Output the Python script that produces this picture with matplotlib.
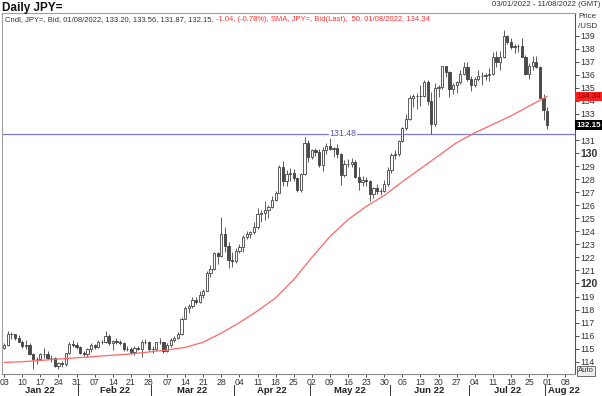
import matplotlib
matplotlib.use("Agg")
import matplotlib.pyplot as plt
import numpy as np
import pandas as pd

plt.rcParams['font.family'] = ['Liberation Sans', 'DejaVu Sans']

# trading days shown on the chart (Jan 3 .. Aug 1 2022, weekdays)
dates = pd.bdate_range("2022-01-03", "2022-08-01")

opens = [115.08, 115.30, 116.10, 116.10, 115.85, 115.55, 115.20, 115.30, 114.60, 114.20,
         114.20, 114.60, 114.60, 114.30, 114.30, 113.70, 113.90, 113.85, 114.65, 115.35,
         115.25, 115.10, 114.70, 114.60, 114.95, 115.25, 115.10, 115.55, 115.55, 116.00,
         115.45, 115.60, 115.55, 115.45, 114.95, 115.00, 114.75, 115.05, 115.00, 115.55,
         115.55, 114.95, 114.95, 115.50, 115.50, 114.80, 115.30, 115.70, 115.85, 116.15,
         117.30, 118.15, 118.30, 118.70, 118.60, 119.15, 119.45, 120.80, 121.10, 122.30,
         122.10, 123.80, 122.85, 121.80, 121.70, 122.50, 122.80, 123.60, 123.80, 123.95,
         124.30, 125.35, 125.40, 125.60, 125.90, 126.40, 126.95, 128.90, 127.85, 128.40,
         128.50, 128.10, 127.20, 128.40, 130.80, 129.70, 130.20, 130.10, 129.10, 130.20,
         130.55, 130.30, 130.40, 129.95, 128.30, 129.20, 129.15, 129.35, 128.20, 127.80,
         127.90, 127.85, 126.85, 127.30, 127.10, 127.10, 127.60, 128.70, 129.85, 129.90,
         130.90, 131.90, 132.60, 134.25, 134.40, 134.40, 134.40, 135.45, 134.00, 132.20,
         135.00, 135.10, 136.65, 136.20, 134.95, 135.20, 135.45, 136.10, 136.60, 135.70,
         135.20, 135.70, 135.90, 135.90, 136.00, 136.10, 137.40, 137.00, 137.40, 138.95,
         138.55, 138.15, 138.20, 138.20, 137.35, 136.10, 136.65, 136.95, 136.60, 134.25,
         133.20]
highs = [115.40, 116.35, 116.25, 116.15, 116.05, 115.70, 115.70, 115.40, 114.70, 114.35,
         114.70, 115.05, 114.80, 114.55, 114.35, 114.00, 114.05, 114.70, 115.50, 115.70,
         115.50, 115.20, 114.85, 115.05, 115.40, 115.35, 115.70, 115.70, 116.35, 116.10,
         115.70, 115.80, 115.70, 115.50, 115.20, 115.10, 115.20, 115.20, 115.70, 115.75,
         115.60, 115.20, 115.55, 115.80, 115.55, 115.40, 115.80, 116.00, 116.30, 117.40,
         118.30, 118.45, 118.95, 119.00, 119.40, 119.60, 120.95, 121.40, 122.40, 122.45,
         125.10, 124.30, 123.15, 122.40, 122.70, 123.00, 123.70, 124.00, 124.05, 124.70,
         125.75, 125.60, 126.30, 126.00, 126.70, 127.10, 129.05, 129.40, 128.70, 128.85,
         128.75, 128.20, 128.50, 131.25, 131.00, 130.35, 130.40, 130.35, 130.45, 130.80,
         131.35, 130.50, 130.70, 130.00, 129.45, 129.55, 129.60, 129.45, 128.95, 128.25,
         128.20, 127.95, 127.40, 127.60, 127.35, 127.90, 128.90, 130.00, 130.20, 131.00,
         132.00, 133.00, 134.45, 134.55, 134.60, 135.20, 135.60, 135.60, 134.65, 135.40,
         135.25, 136.70, 136.70, 136.30, 135.40, 135.55, 136.40, 137.00, 137.00, 135.90,
         135.80, 136.35, 136.20, 136.15, 136.55, 137.75, 137.85, 137.85, 139.40, 139.05,
         138.85, 138.40, 138.40, 138.85, 137.50, 136.90, 137.45, 137.45, 136.65, 134.55,
         133.56]
lows = [115.00, 115.20, 115.75, 115.70, 115.55, 115.05, 115.00, 114.50, 113.48, 113.80,
        114.10, 114.25, 114.20, 114.00, 113.60, 113.45, 113.60, 113.70, 114.60, 115.15,
        115.00, 114.60, 114.45, 114.35, 114.75, 114.95, 115.05, 115.35, 115.45, 115.25,
        114.90, 115.35, 115.30, 114.80, 114.85, 114.60, 114.55, 114.90, 114.40, 115.35,
        114.80, 114.70, 114.90, 115.35, 114.65, 114.75, 115.15, 115.55, 115.75, 116.05,
        117.25, 117.70, 118.10, 118.40, 118.50, 118.85, 119.40, 120.50, 121.00, 121.50,
        122.00, 122.40, 121.20, 121.30, 121.60, 122.30, 122.40, 123.40, 123.50, 123.80,
        124.20, 124.70, 124.90, 125.00, 125.80, 126.30, 126.90, 127.50, 127.50, 127.85,
        127.85, 127.05, 127.00, 128.35, 129.30, 129.55, 129.80, 128.90, 128.60, 129.90,
        130.20, 129.70, 129.65, 127.55, 128.20, 128.90, 128.90, 128.10, 127.20, 127.50,
        127.45, 126.35, 126.55, 126.85, 126.80, 127.00, 127.50, 128.45, 129.55, 129.80,
        130.85, 131.80, 132.50, 133.50, 133.40, 133.60, 134.30, 133.70, 131.50, 132.10,
        134.30, 134.90, 135.80, 134.30, 134.50, 134.60, 135.30, 136.00, 135.50, 134.75,
        135.10, 135.50, 135.20, 135.60, 135.50, 136.00, 136.60, 136.35, 137.30, 138.40,
        137.95, 137.70, 137.75, 137.40, 135.95, 135.65, 136.35, 136.55, 134.20, 132.50,
        131.87]
closes = [115.30, 116.10, 116.10, 115.85, 115.55, 115.20, 115.30, 114.60, 114.20, 114.20,
          114.60, 114.60, 114.30, 114.30, 113.70, 113.90, 113.85, 114.65, 115.35, 115.25,
          115.10, 114.70, 114.60, 114.95, 115.25, 115.10, 115.55, 115.55, 116.00, 115.45,
          115.60, 115.55, 115.45, 114.95, 115.00, 114.75, 115.05, 115.00, 115.55, 115.55,
          114.95, 114.95, 115.50, 115.50, 114.80, 115.30, 115.70, 115.85, 116.15, 117.30,
          118.15, 118.30, 118.70, 118.60, 119.15, 119.45, 120.80, 121.10, 122.30, 122.10,
          123.80, 122.85, 121.80, 121.70, 122.50, 122.80, 123.60, 123.80, 123.95, 124.30,
          125.35, 125.40, 125.60, 125.90, 126.40, 126.95, 128.90, 127.85, 128.40, 128.50,
          128.10, 127.20, 128.40, 130.80, 129.70, 130.20, 130.10, 129.10, 130.20, 130.55,
          130.30, 130.40, 129.95, 128.30, 129.20, 129.15, 129.35, 128.20, 127.80, 127.90,
          127.85, 126.85, 127.30, 127.10, 127.10, 127.60, 128.70, 129.85, 129.90, 130.90,
          131.90, 132.60, 134.25, 134.40, 134.40, 134.40, 135.45, 134.00, 132.20, 135.00,
          135.10, 136.65, 136.20, 134.95, 135.20, 135.45, 136.10, 136.60, 135.70, 135.20,
          135.70, 135.90, 135.90, 136.00, 136.10, 137.40, 137.00, 137.40, 138.95, 138.55,
          138.15, 138.20, 138.20, 137.35, 136.10, 136.65, 136.95, 136.60, 134.25, 133.30,
          132.15]

# 50-day SMA, one point per week (trading-day index)
sma_days = [0, 5, 10, 15, 20, 25, 30, 35, 40, 45, 50, 55, 60, 65, 70, 75,
            80, 85, 90, 95, 100, 105, 110, 115, 120, 125, 130, 135, 140, 145, 150]
sma_vals = [113.95, 114.0, 114.1, 114.2, 114.3, 114.4, 114.5, 114.6, 114.75, 114.9,
            115.1, 115.5, 116.2, 117.0, 117.9, 118.9, 120.3, 122.0, 123.6, 124.9,
            125.9, 126.75, 127.8, 128.8, 129.8, 130.8, 131.55, 132.2, 132.85, 133.6, 134.34]

hline_level = 131.48
last_close = 132.15
last_sma = 134.34
y_ticks = list(range(114, 140))

o = np.array(opens)
h = np.array(highs)
l = np.array(lows)
c = np.array(closes)
x = np.arange(len(dates))

fig = plt.figure(figsize=(6.02, 3.96), dpi=100)
ax = fig.add_axes([2 / 602, 1 - 374 / 396, 573 / 602, 361 / 396])

# candles
up = c >= o
ax.vlines(x, l, h, color='#404040', lw=0.6, zorder=2)
ax.bar(x[up], (c - o)[up], bottom=o[up], width=0.62, color='white',
       edgecolor='#404040', linewidth=0.6, zorder=3)
ax.bar(x[~up], (o - c)[~up], bottom=c[~up], width=0.62, color='#4a4a4a',
       edgecolor='#404040', linewidth=0.6, zorder=3)

# moving average
ax.plot(sma_days, sma_vals, color='#ff6666', lw=0.9, zorder=4)

# horizontal level
ax.axhline(hline_level, color='#7b7bd8', lw=0.9, zorder=1)
ax.text(93.6, hline_level, f"{hline_level:.2f}", color='#5555aa', fontsize=6.3,
        ha='center', va='center', zorder=5,
        bbox=dict(facecolor='white', edgecolor='none', pad=0.6))

ax.set_xlim(-0.6, 157.7)
ax.set_ylim(113.06, 140.74)

# right price axis
ax.yaxis.tick_right()
ax.set_yticks(y_ticks)
ax.set_yticklabels([str(v) for v in y_ticks])
ax.tick_params(axis='y', labelsize=6.3, length=3, width=0.6, colors='#333333', pad=1)
for lab in ax.get_yticklabels():
    if lab.get_text() in ('120', '130'):
        lab.set_fontweight('bold')
        lab.set_fontsize(7.5)

# x axis: Mondays
mondays = [i for i, d in enumerate(dates) if d.weekday() == 0] + [len(dates) + 4]
mon_labels = [f"{d.day:02d}" for d in dates if d.weekday() == 0] + ["08"]
ax.set_xticks(mondays)
ax.set_xticklabels(mon_labels)
ax.tick_params(axis='x', labelsize=6.3, length=2, width=0.6, colors='#333333', pad=1)

# month labels with separators
trans = ax.get_xaxis_transform()
months = pd.Series(dates.month)
starts = [i for i in range(len(dates)) if i == 0 or months[i] != months[i - 1]]
ends = starts[1:] + [len(dates) + 7]
for s, e in zip(starts, ends):
    name = dates[s].strftime("%b %y")
    if s > 0:
        ax.plot([s - 0.5, s - 0.5], [-0.03, -0.058], transform=trans,
                color='#333333', lw=0.7, clip_on=False)
    if e - s < 10:
        ax.text(s + 0.3, -0.045, name, transform=trans, ha='left', va='center',
                fontsize=6.8, fontweight='bold', color='#222222')
    else:
        ax.text((s + e) / 2 - 0.5, -0.045, name, transform=trans, ha='center',
                va='center', fontsize=6.8, fontweight='bold', color='#222222')

for side in ('left', 'top'):
    ax.spines[side].set_color('#a0a0a0')
    ax.spines[side].set_linewidth(0.8)
ax.spines['right'].set_color('#555555')
ax.spines['right'].set_linewidth(0.8)
ax.spines['bottom'].set_color('#888888')
ax.spines['bottom'].set_linewidth(0.8)

# price tags on the right axis
ytrans = ax.get_yaxis_transform()
ax.text(1.002, last_sma, f"{last_sma:.2f}", transform=ytrans, fontsize=5.8,
        color='#550000', va='center', ha='left', clip_on=False, zorder=6,
        bbox=dict(facecolor='#ff2020', edgecolor='none', pad=0.8))
ax.text(1.002, last_close, f"{last_close:.2f}", transform=ytrans, fontsize=5.8,
        color='white', fontweight='bold', va='center', ha='left', clip_on=False, zorder=6,
        bbox=dict(facecolor='black', edgecolor='none', pad=0.8))

# header texts
fig.text(2 / 602, 1 - 8 / 396, "Daily JPY=", fontsize=8.5, fontweight='bold',
         color='#111111', va='center', ha='left')
fig.text(600 / 602, 1 - 5 / 396, "03/01/2022 - 11/08/2022 (GMT)", fontsize=5.6,
         color='#333333', va='center', ha='right')
fig.text(578 / 602, 1 - 17 / 396, "Price", fontsize=5.8, color='#333333',
         va='center', ha='left')
fig.text(578 / 602, 1 - 27 / 396, "/USD", fontsize=5.8, color='#333333',
         va='center', ha='left')
fig.text(578 / 602, 1 - 371 / 396, "Auto", fontsize=5.5, color='#333333',
         va='center', ha='left',
         bbox=dict(facecolor='#eeeeee', edgecolor='#555555', linewidth=0.6, pad=0.8))

legend_grey = "Cndl, JPY=, Bid, 01/08/2022, 133.20, 133.56, 131.87, 132.15, "
legend_red = "-1.04, (-0.78%), SMA, JPY=, Bid(Last),  50, 01/08/2022, 134.34"
t1 = ax.text(0.006, 0.983, legend_grey, transform=ax.transAxes, fontsize=5.5,
             color='#333333', va='center', ha='left')
fig.canvas.draw()
bb = t1.get_window_extent().transformed(ax.transAxes.inverted())
ax.text(bb.x1, 0.983, legend_red, transform=ax.transAxes, fontsize=5.5,
        color='#ff3333', va='center', ha='left')

fig.savefig("out.png", dpi=100)
